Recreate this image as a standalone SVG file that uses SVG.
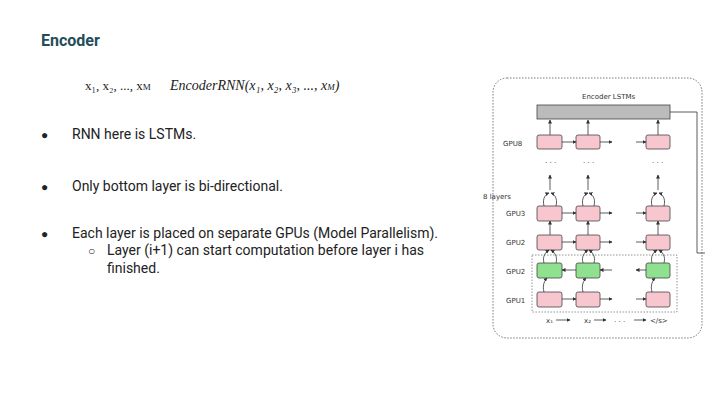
<svg xmlns="http://www.w3.org/2000/svg" width="720" height="405" viewBox="0 0 720 405">
<style>
.t{font-family:Roboto,"Liberation Sans",sans-serif;fill:#222}
.s{font-family:"DejaVu Sans",sans-serif;font-size:7px;fill:#333}
.p{fill:#f7c6cf;stroke:#444;stroke-width:0.8}
.g{fill:#8fe08f;stroke:#444;stroke-width:0.8}
.l{stroke:#333;stroke-width:0.8;fill:none}
</style>
<defs><marker id="a" markerWidth="4" markerHeight="4" refX="3.5" refY="2" orient="auto" markerUnits="userSpaceOnUse"><path d="M0,0L4,2L0,4z" fill="#333"/></marker></defs>
<rect width="720" height="405" fill="#fff"/>
<text x="41" y="46" font-family="Roboto,'Liberation Sans',sans-serif" font-weight="bold" font-size="16" fill="#1f4e5a">Encoder</text>
<text x="85" y="90" font-family="'Liberation Serif',serif" font-size="13" fill="#222">x₁, x₂, ..., x<tspan font-size="9">M</tspan></text>
<text x="170" y="90" font-family="'Liberation Serif',serif" font-style="italic" font-size="14" fill="#222">EncoderRNN(x₁, x₂, x₃, ..., x<tspan font-size="9">M</tspan>)</text>
<g id="bullets" class="t" font-size="14">
<text x="41" y="139" font-size="12">●</text><text x="72" y="139">RNN here is LSTMs.</text>
<text x="41" y="191" font-size="12">●</text><text x="72" y="191">Only bottom layer is bi-directional.</text>
<text x="41" y="238" font-size="12">●</text><text x="72" y="238">Each layer is placed on separate GPUs (Model Parallelism).</text>
<text x="88" y="255" font-size="12">○</text><text x="107" y="255">Layer (i+1) can start computation before layer i has</text>
<text x="107" y="273">finished.</text>
</g>
<g id="figure">
<rect x="493" y="78" width="209" height="260" rx="14" fill="none" stroke="#555" stroke-width="0.8" stroke-dasharray="1.5,1.5"/>
<text x="582" y="99" class="s">Encoder LSTMs</text>
<rect x="537" y="105" width="133" height="14" fill="#bbb" stroke="#444" stroke-width="0.8"/>
<path d="M670,112H697V253H705" class="l"/>
<rect x="532" y="255" width="145" height="57" fill="none" stroke="#666" stroke-width="0.7" stroke-dasharray="1.5,1.5"/>
<g class="s">
<text x="503" y="146">GPU8</text><text x="483" y="199">8 layers</text>
<text x="506" y="216">GPU3</text><text x="506" y="245">GPU2</text>
<text x="506" y="274">GPU2</text><text x="506" y="303">GPU1</text>
<text x="545" y="165">· · ·</text><text x="583" y="165">· · ·</text><text x="652" y="165">· · ·</text>
<text x="546" y="323">x₁</text><text x="584" y="323">x₂</text><text x="650" y="323">&lt;/s&gt;</text>
<text x="614" y="324">· · ·</text>
</g>
<g id="cells">
<rect class="p" x="537" y="135" width="25" height="14" rx="2"/><rect class="p" x="576" y="135" width="24" height="14" rx="2"/><rect class="p" x="646" y="135" width="24" height="14" rx="2"/>
<rect class="p" x="537" y="206" width="25" height="15" rx="2"/><rect class="p" x="576" y="206" width="24" height="15" rx="2"/><rect class="p" x="646" y="206" width="24" height="15" rx="2"/>
<rect class="p" x="537" y="235" width="25" height="15" rx="2"/><rect class="p" x="576" y="235" width="24" height="15" rx="2"/><rect class="p" x="646" y="235" width="24" height="15" rx="2"/>
<rect class="g" x="537" y="263" width="25" height="15" rx="2"/><rect class="g" x="576" y="263" width="24" height="15" rx="2"/><rect class="g" x="646" y="263" width="24" height="15" rx="2"/>
<rect class="p" x="537" y="292" width="25" height="15" rx="2"/><rect class="p" x="576" y="292" width="24" height="15" rx="2"/><rect class="p" x="646" y="292" width="24" height="15" rx="2"/>
</g>
<g id="connectors" class="l" marker-end="url(#a)">
<path d="M550,135V120"/><path d="M588,135V120"/><path d="M658,135V120"/>
<path d="M550,190V175"/><path d="M588,190V175"/><path d="M658,190V175"/>
<path d="M562,142H576"/><path d="M600,142H612"/><path d="M636,142H646"/>
<path d="M562,213H576"/><path d="M600,213H612"/><path d="M636,213H646"/>
<path d="M562,242H576"/><path d="M600,242H612"/><path d="M636,242H646"/>
<path d="M576,270H562"/><path d="M612,270H600"/><path d="M646,270H636"/>
<path d="M562,299H576"/><path d="M600,299H612"/><path d="M636,299H646"/>
<path d="M556,320H570"/><path d="M594,320H606"/><path d="M634,320H646"/>
<path d="M544,206C542,198 546,194 549,193"/><path d="M556,206C558,198 554,194 551,193"/>
<path d="M583,206C581,198 585,194 588,193"/><path d="M594,206C596,198 592,194 589,193"/>
<path d="M652,206C650,198 654,194 657,193"/><path d="M664,206C666,198 662,194 659,193"/>
<path d="M550,235V221"/><path d="M588,235V221"/><path d="M658,235V221"/>
<path d="M544,263C542,256 546,252 549,250"/><path d="M556,263C558,256 554,252 551,250"/>
<path d="M583,263C581,256 585,252 588,250"/><path d="M594,263C596,256 592,252 589,250"/>
<path d="M652,263C650,256 654,252 657,250"/><path d="M664,263C666,256 662,252 659,250"/>
<path d="M544,292C542,285 545,280 547,278"/><path d="M583,292C581,285 584,280 586,278"/><path d="M652,292C650,285 653,280 655,278"/>
</g>
</g>
</svg>
